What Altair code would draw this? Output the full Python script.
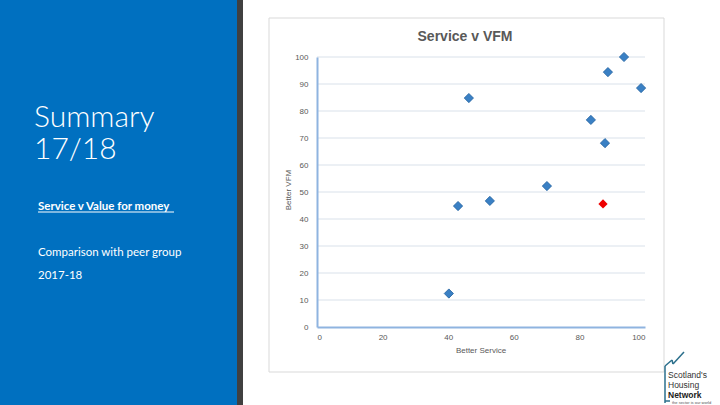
import altair as alt
import pandas as pd

# ---- data ----
service = [93.6, 88.7, 98.8, 46.3, 83.5, 87.8, 70.1, 52.7, 43.0, 40.2]
vfm = [100.0, 94.4, 88.5, 84.8, 76.7, 68.1, 52.2, 46.7, 44.8, 12.4]
own_service = [87.2]
own_vfm = [45.6]
grid_values = [10, 20, 30, 40, 50, 60, 70, 80, 90, 100]
x_ticks = [0, 20, 40, 60, 80, 100]
y_ticks = [0, 10, 20, 30, 40, 50, 60, 70, 80, 90, 100]

peers = pd.DataFrame({"service": service, "vfm": vfm})
own = pd.DataFrame({"service": own_service, "vfm": own_vfm})
grid = pd.DataFrame({"vfm": grid_values})
one = pd.DataFrame({"a": [0]})

xscale = alt.Scale(domain=[0, 100], range=[317, 645], nice=False, zero=False)
yscale = alt.Scale(domain=[0, 100], range=[327, 57], nice=False, zero=False)

LABEL_FONT = "Liberation Sans"
GREY = "#595959"
AXIS_BLUE = "#8fb4e0"


def box(x1, x2, y1, y2, fill, stroke=None):
    kw = dict(fill=fill)
    if stroke:
        kw.update(stroke=stroke, strokeWidth=1)
    else:
        kw.update(strokeWidth=0)
    return alt.Chart(one).mark_rect(**kw).encode(
        x=alt.value(x1), x2=alt.value(x2), y=alt.value(y1), y2=alt.value(y2)
    )


def txt(s, x, y, size, color="white", weight="normal", font="Lato", align="left", angle=0):
    kw = dict(fontSize=size, color=color, fontWeight=weight, font=font, align=align, baseline="alphabetic")
    if angle:
        kw["angle"] = angle
    return alt.Chart(one).mark_text(**kw).encode(
        x=alt.value(x), y=alt.value(y), text=alt.value(s)
    )


def seg(x1, y1, x2, y2, color, w=1.0):
    return alt.Chart(one).mark_rule(color=color, strokeWidth=w).encode(
        x=alt.value(x1), x2=alt.value(x2), y=alt.value(y1), y2=alt.value(y2)
    )


left_panel = box(0, 237, 0, 405, "#0070c0")
stripe = box(237, 243, 0, 405, "#404040")
chart_box = box(269, 664, 18, 372, "white", stroke="#d9d9d9")

grid_rules = alt.Chart(grid).mark_rule(color="#d9e1ea", strokeWidth=1).encode(
    y=alt.Y("vfm:Q", scale=yscale),
    x=alt.value(317),
    x2=alt.value(645),
)

points = alt.Chart(peers).mark_point(
    shape="diamond", filled=True, size=85, color="#3a80c4", stroke="#1f5f9e", strokeWidth=0.8, opacity=1
).encode(
    x=alt.X(
        "service:Q",
        scale=xscale,
        axis=alt.Axis(
            orient="bottom", offset=-78, values=x_ticks, ticks=False, grid=False, title=None,
            domainColor=AXIS_BLUE, domainWidth=2, labelFontSize=8, labelColor=GREY,
            labelFont=LABEL_FONT, labelPadding=6, zindex=1,
        ),
    ),
    y=alt.Y(
        "vfm:Q",
        scale=yscale,
        axis=alt.Axis(
            orient="left", offset=-317, values=y_ticks, ticks=False, grid=False, title=None,
            domainColor=AXIS_BLUE, domainWidth=2, labelFontSize=8, labelColor=GREY,
            labelFont=LABEL_FONT, labelPadding=9, zindex=1,
        ),
    ),
)

own_point = alt.Chart(own).mark_point(
    shape="diamond", filled=True, size=85, color="#ee0000", opacity=1
).encode(
    x=alt.X("service:Q", scale=xscale),
    y=alt.Y("vfm:Q", scale=yscale),
)

title = txt("Service v VFM", 465, 41, 14, color=GREY, weight="bold", font="Liberation Sans", align="center")
x_title = txt("Better Service", 481, 353, 8, color=GREY, font=LABEL_FONT, align="center")
y_title = txt("Better VFM", 291, 190, 8, color=GREY, font=LABEL_FONT, align="center", angle=270)

summary1 = txt("Summary", 34, 127, 30, weight=300)
summary2 = txt("17/18", 34, 159, 30, weight=300)
sub1 = txt("Service  v  Value for money", 38, 210, 11.5, weight="bold")
underline = seg(38, 212, 174, 212, "white", 1)
sub2 = txt("Comparison with peer group", 38, 256, 11.5)
sub3 = txt("2017-18", 38, 279, 11.5)

logo_color = "#2b6f8c"
logo = [
    seg(665, 366, 665, 403, logo_color, 1.5),
    seg(665, 366, 672, 360, logo_color, 1.5),
    seg(672, 360, 673, 364, logo_color, 1.5),
    seg(673, 364, 684, 352, logo_color, 1.5),
    seg(665, 401, 670, 401, logo_color, 1.5),
    txt("Scotland's", 668, 378, 8.5, color="#333333", font="Liberation Sans"),
    txt("Housing", 668, 388, 8.5, color="#333333", font="Liberation Sans"),
    txt("Network", 668, 398, 8.5, color="#222222", weight="bold", font="Liberation Sans"),
    txt("the sector is our world", 672, 404, 4, color="#555555", font="Liberation Sans"),
]

chart = alt.layer(
    left_panel, stripe, chart_box, grid_rules, points, own_point,
    title, x_title, y_title,
    summary1, summary2, sub1, underline, sub2, sub3,
    *logo,
).properties(
    width=720, height=405, autosize=alt.AutoSizeParams(type="none"), padding=0, background="white"
).configure_view(stroke=None)

chart.save("out.html", embed_options={"renderer": "svg", "actions": False})
